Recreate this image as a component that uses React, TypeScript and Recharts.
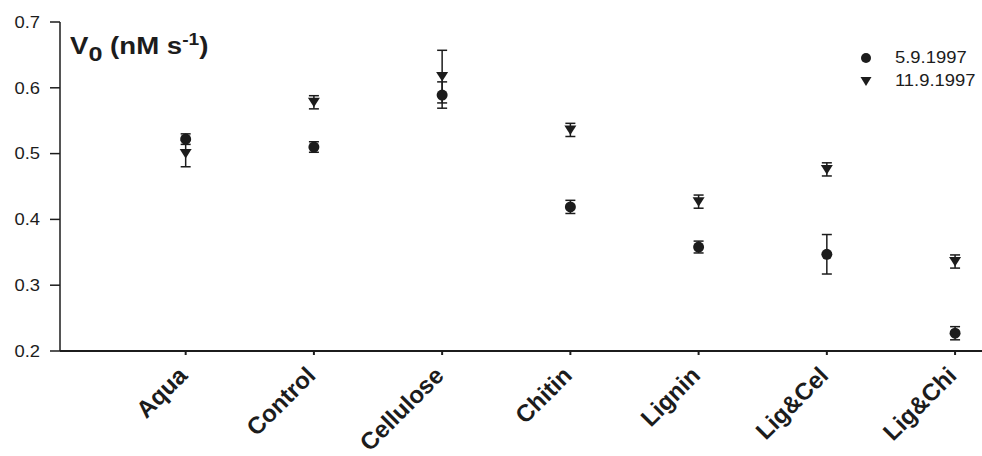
import { ErrorBar, Scatter, ScatterChart, XAxis, YAxis } from "recharts";

const treatments = ["Aqua", "Control", "Cellulose", "Chitin", "Lignin", "Lig&Cel", "Lig&Chi"];

// 5.9.1997
const v0Sept5 = [0.522, 0.51, 0.589, 0.419, 0.358, 0.347, 0.227];
const errSept5 = [0.008, 0.008, 0.02, 0.01, 0.009, 0.03, 0.01];

// 11.9.1997
const v0Sept11 = [0.5, 0.578, 0.617, 0.536, 0.427, 0.476, 0.336];
const errSept11 = [0.02, 0.01, 0.04, 0.01, 0.01, 0.01, 0.01];

const yTicks = [0.2, 0.3, 0.4, 0.5, 0.6, 0.7];

const ink = "#1c1c1c";
const font = "Arial, 'Liberation Sans', Helvetica, sans-serif";
// lettering in the figure is a little wider than plain Arial
const stretch = 1.15;

const toPoints = (vals: number[], errs: number[]) =>
  vals.map((v, i) => ({ x: i + 1, y: v, err: errs[i] }));

const sept5 = toPoints(v0Sept5, errSept5);
const sept11 = toPoints(v0Sept11, errSept11);

const Dot = (props: any) => <circle cx={props.cx} cy={props.cy} r={5.5} fill={ink} />;

const DownTriangle = (props: any) => {
  const { cx, cy } = props;
  return (
    <polygon
      points={`${cx - 6},${cy - 4.5} ${cx + 6},${cy - 4.5} ${cx},${cy + 5}`}
      fill={ink}
    />
  );
};

const CategoryTick = (props: any) => {
  const { x, y, payload } = props;
  return (
    <g transform={`translate(${x + 3},${y + 20})`}>
      <text
        textAnchor="end"
        transform="rotate(-45)"
        fontSize={24}
        fontWeight="bold"
        fontFamily={font}
        fill={ink}
      >
        {treatments[payload.value - 1]}
      </text>
    </g>
  );
};

const ValueTick = (props: any) => {
  const { x, y, payload } = props;
  return (
    <g transform={`translate(${x},${y})`}>
      <text
        textAnchor="end"
        dy="0.36em"
        transform={`scale(${stretch},1)`}
        fontSize={16}
        fontFamily={font}
        fill={ink}
      >
        {payload.value.toFixed(1)}
      </text>
    </g>
  );
};

const legendRow = { display: "flex", alignItems: "center", height: 23 } as const;

export default function App() {
  return (
    <div style={{ position: "absolute", left: 0, top: 0, width: 982, height: 456, background: "#fff" }}>
      <ScatterChart width={982} height={456} margin={{ top: 22, right: 0, bottom: 0, left: 0 }}>
        <XAxis
          type="number"
          dataKey="x"
          domain={[0.02, 7.21]}
          ticks={[1, 2, 3, 4, 5, 6, 7]}
          height={105}
          tickSize={4}
          tickMargin={2}
          stroke={ink}
          strokeWidth={2}
          tick={<CategoryTick />}
        />
        <YAxis
          type="number"
          dataKey="y"
          domain={[0.2, 0.7]}
          ticks={yTicks}
          width={60}
          tickSize={10}
          tickMargin={10}
          stroke={ink}
          strokeWidth={1.5}
          tick={<ValueTick />}
        />
        <Scatter data={sept11} shape={<DownTriangle />} isAnimationActive={false}>
          <ErrorBar dataKey="err" direction="y" width={5} stroke={ink} strokeWidth={1.5} />
        </Scatter>
        <Scatter data={sept5} shape={<Dot />} isAnimationActive={false}>
          <ErrorBar dataKey="err" direction="y" width={5} stroke={ink} strokeWidth={1.5} />
        </Scatter>
      </ScatterChart>

      <div
        style={{
          position: "absolute",
          left: 70,
          top: 33,
          fontFamily: font,
          fontWeight: "bold",
          fontSize: 23,
          lineHeight: "26px",
          color: ink,
          whiteSpace: "nowrap",
          transform: "scaleX(1.2)",
          transformOrigin: "left center",
        }}
      >
        V<span style={{ fontSize: 21, position: "relative", top: 7 }}>0</span> (nM s
        <span style={{ fontSize: 16, position: "relative", top: -9 }}>-1</span>)
      </div>

      <div style={{ position: "absolute", left: 858, top: 46, fontFamily: font, fontSize: 16, color: ink }}>
        <div style={legendRow}>
          <svg width={16} height={16} style={{ marginRight: 21 }}>
            <circle cx={8} cy={8} r={5} fill={ink} />
          </svg>
          <span style={{ display: "inline-block", transform: `scaleX(${stretch})`, transformOrigin: "left center" }}>
            5.9.1997
          </span>
        </div>
        <div style={legendRow}>
          <svg width={16} height={16} style={{ marginRight: 21 }}>
            <polygon points="2.5,4 13.5,4 8,13" fill={ink} />
          </svg>
          <span style={{ display: "inline-block", transform: `scaleX(${stretch})`, transformOrigin: "left center" }}>
            11.9.1997
          </span>
        </div>
      </div>
    </div>
  );
}
